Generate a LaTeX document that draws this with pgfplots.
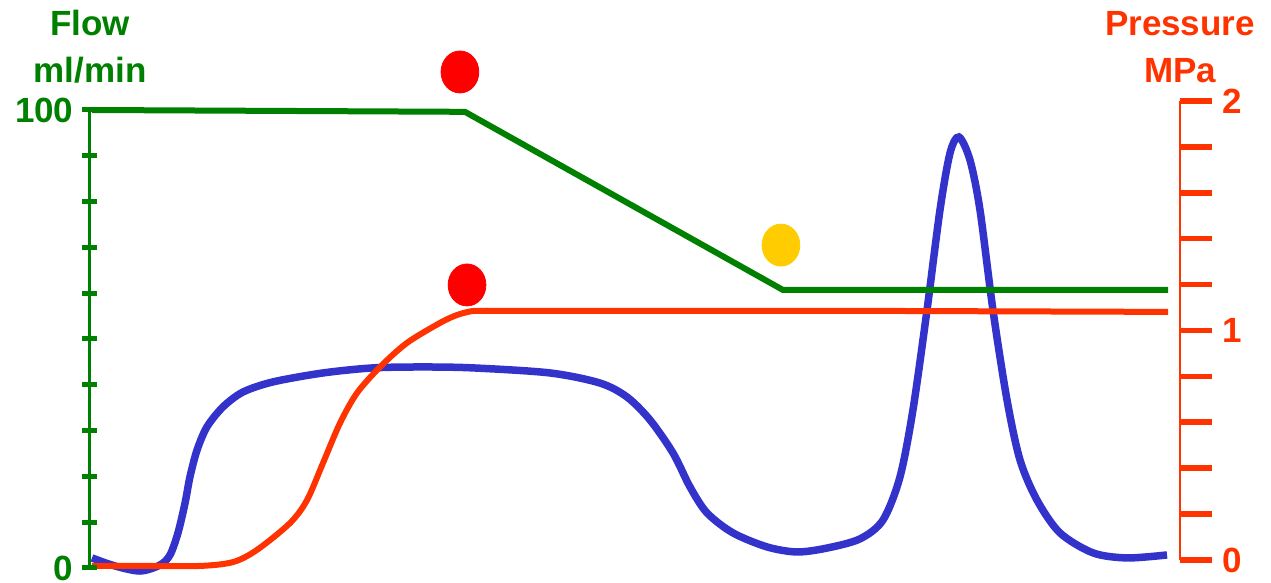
\documentclass[border=0pt]{standalone}
\usepackage{fontspec}
\setmainfont{Liberation Sans}
\usepackage{pgfplots}
\pgfplotsset{compat=1.18}

\definecolor{flowgreen}{RGB}{0,128,0}
\definecolor{presred}{RGB}{255,51,0}
\definecolor{curveblue}{RGB}{51,51,204}
\definecolor{dotred}{RGB}{255,0,0}
\definecolor{dotyellow}{RGB}{255,204,0}

\newcommand{\bigbf}{\fontsize{17.5}{23.5}\selectfont\bfseries}

\begin{document}
\begin{tikzpicture}
\useasboundingbox (-45pt,-7.5pt) rectangle (590.5pt,284pt);

% pressure axis on the right, with the blue and red curves
\begin{axis}[
    at={(0pt,4pt)}, anchor=south west,
    x=5.45pt, y=114.75pt,
    xmin=0, xmax=100, ymin=0, ymax=2,
    clip=false,
    axis x line=none,
    axis y line*=right,
    xtick=\empty,
    ytick={0,0.2,0.4,0.6,0.8,1,1.2,1.4,1.6,1.8,2},
    yticklabels={0,,,,,1,,,,,2},
    y axis line style={presred, line width=1pt},
    ytick style={presred, line width=2.8pt},
    tick align=outside,
    major tick length=16pt,
    yticklabel style={presred, font=\bigbf, xshift=1.5pt},
    title={Pressure\\MPa},
    title style={at={(rel axis cs:1,1)}, anchor=south, align=center,
                 presred, font=\bigbf, yshift=-0.5pt},
]
\addplot[curveblue, line width=3.75pt, smooth, tension=0.5] coordinates {
    (0.18,0.009) (2.29,-0.026) (4.59,-0.048) (6.42,-0.022) (7.34,0.022)
    (8.07,0.118) (8.72,0.248) (9.17,0.362) (9.82,0.479) (10.73,0.580)
    (12.20,0.667) (14.04,0.732) (16.79,0.776) (21.38,0.815) (25.96,0.837)
    (30.55,0.841) (35.14,0.837) (42.20,0.815) (46.79,0.771) (49.27,0.710)
    (51.38,0.610) (53.49,0.466) (55.05,0.318) (56.61,0.205) (58.99,0.118)
    (62.11,0.057) (64.86,0.035) (67.61,0.052) (70.64,0.092) (72.75,0.174)
    (74.31,0.362) (75.50,0.654) (76.79,1.089) (77.98,1.525) (78.90,1.773)
    (79.72,1.843) (80.73,1.743) (81.65,1.525) (82.84,1.089) (84.13,0.697)
    (85.32,0.436) (86.88,0.261) (88.99,0.118) (92.02,0.031) (95.14,0.009)
    (98.81,0.022)
};
\addplot[presred, line width=3pt, smooth, tension=0.5] coordinates {
    (0.18,-0.026) (5.0,-0.026) (10.09,-0.026) (13.12,-0.009) (15.32,0.044)
    (18.35,0.161) (19.91,0.261) (21.38,0.423) (22.94,0.597) (24.50,0.728)
    (26.61,0.841) (29.08,0.946) (32.11,1.033) (33.70,1.068) (35.14,1.085)
    (36.50,1.085)
};
\addplot[presred, line width=3pt] coordinates {
    (36.40,1.085) (74.31,1.085) (98.90,1.081)
};
\end{axis}

% flow axis on the left, with the green line and the dots
\begin{axis}[
    at={(0pt,0pt)}, anchor=south west,
    x=5.45pt, y=2.29pt,
    xmin=0, xmax=100, ymin=0, ymax=100,
    clip=false,
    axis x line=none,
    axis y line*=left,
    xtick=\empty,
    ytick={0,10,...,100},
    yticklabels={0,,,,,,,,,,100},
    y axis line style={flowgreen, line width=1.5pt},
    ytick style={flowgreen, line width=2.5pt},
    tick align=center,
    major tick length=7.5pt,
    yticklabel style={flowgreen, font=\bigbf, xshift=-1pt},
    title={Flow\\ml/min},
    title style={at={(rel axis cs:0,1)}, anchor=south, align=center,
                 flowgreen, font=\bigbf, yshift=4pt},
]
\addplot[flowgreen, line width=3pt] coordinates {
    (0.18,100) (34.40,99.6) (63.58,60.7) (98.90,60.7)
};
\addplot[only marks, mark=*, mark size=10.5pt, color=dotred,
         mark options={xscale=0.9, draw=none, fill=dotred}] coordinates {
    (33.94,108.3) (34.59,61.8)
};
\addplot[only marks, mark=*, mark size=10.5pt, color=dotyellow,
         mark options={xscale=0.9, draw=none, fill=dotyellow}] coordinates {
    (63.39,70.5)
};
\end{axis}
\end{tikzpicture}
\end{document}
